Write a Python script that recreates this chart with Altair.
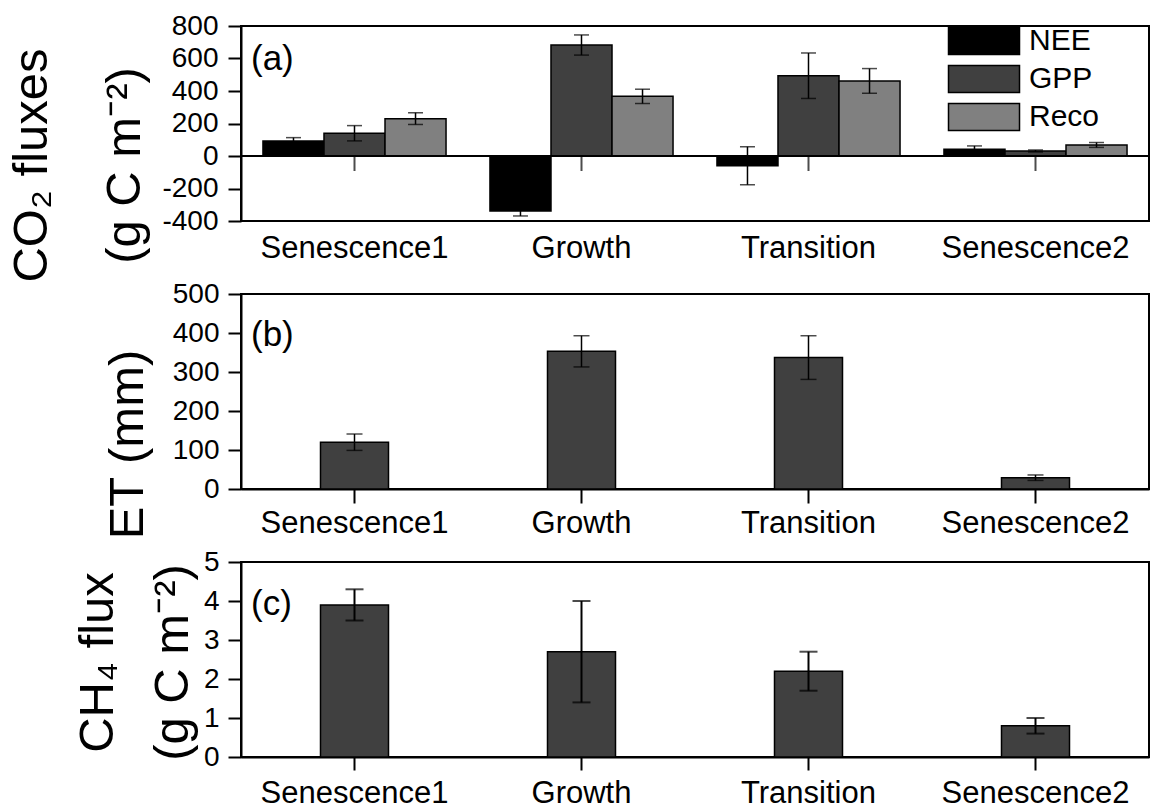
import altair as alt
import pandas as pd

# ---------------- data ----------------
stages = ["Senescence1", "Growth", "Transition", "Senescence2"]
series = ["NEE", "GPP", "Reco"]
series_colors = ["#000000", "#404040", "#808080"]

nee_mean = [92, -338, -60, 42]
nee_err = [21, 31, 117, 20]
gpp_mean = [140, 683, 494, 31]
gpp_err = [47, 62, 140, 6]
reco_mean = [230, 367, 462, 68]
reco_err = [36, 44, 76, 15]

et_mean = [120, 353, 337, 29]
et_err = [21, 40, 56, 7]

ch4_mean = [3.9, 2.7, 2.2, 0.8]
ch4_err = [0.4, 1.3, 0.5, 0.2]

co2_ticks = [-400, -200, 0, 200, 400, 600, 800]
et_ticks = [0, 100, 200, 300, 400, 500]
ch4_ticks = [0, 1, 2, 3, 4, 5]
panel_tags = ["(a)", "(b)", "(c)"]

FONT = "Arial"
W, H = 908, 195
BAR_GRAY = "#404040"
XLAB = 31
YLAB = 28
TITLE = 49

# ---------------- tables ----------------
recs = []
for s, means, errs in zip(series, [nee_mean, gpp_mean, reco_mean],
                          [nee_err, gpp_err, reco_err]):
    for st, m, e in zip(stages, means, errs):
        recs.append({"stage": st, "series": s, "value": m, "lo": m - e, "hi": m + e})
df_a = pd.DataFrame(recs)

df_b = pd.DataFrame({"stage": stages, "value": et_mean,
                     "lo": [m - e for m, e in zip(et_mean, et_err)],
                     "hi": [m + e for m, e in zip(et_mean, et_err)]})
df_c = pd.DataFrame({"stage": stages, "value": ch4_mean,
                     "lo": [m - e for m, e in zip(ch4_mean, ch4_err)],
                     "hi": [m + e for m, e in zip(ch4_mean, ch4_err)]})
df_zero = pd.DataFrame({"stage": stages, "zero": [0] * len(stages)})


def xenc(axis):
    return alt.X("stage:N",
                 scale=alt.Scale(domain=stages, paddingInner=0, paddingOuter=0),
                 axis=axis)


def yenc(field, domain, axis):
    return alt.Y(field, scale=alt.Scale(domain=domain, nice=False, zero=False), axis=axis)


def tag_layer(tag, ty):
    return alt.Chart(pd.DataFrame({"tag": [tag]})).mark_text(
        align="left", baseline="middle", fontSize=35, font=FONT, color="black"
    ).encode(x=alt.value(10), y=alt.value(ty), text="tag:N")


# ---------------- panel (a) ----------------
xa_axis = alt.Axis(title=None, labelAngle=0, ticks=False, domain=False, labelPadding=12,
                   labelFontSize=XLAB, labelLimit=0)
ya_axis = alt.Axis(values=co2_ticks, title=["CO\u2082 fluxes", "(g C m\u207b\u00b2)"],
                   titleX=-195, titleY=139, titleLineHeight=93,
                   titleBaseline="alphabetic", titleAlign="center",
                   tickSize=13, labelPadding=10, labelFontSize=YLAB,
                   labelExpr="toString(datum.value)")
dom_a = [-400, 800]
xoff = alt.XOffset("series:N",
                   scale=alt.Scale(domain=series, paddingInner=0, paddingOuter=0.36))

bars_a = alt.Chart(df_a).mark_bar(stroke="black", strokeWidth=1.5).encode(
    x=xenc(xa_axis),
    xOffset=xoff,
    y=yenc("value:Q", dom_a, ya_axis),
    color=alt.Color("series:N",
                    scale=alt.Scale(domain=series, range=series_colors),
                    legend=alt.Legend(title=None, orient="none", legendX=706, legendY=0,
                                      symbolType="M-1,-1H4.26V1H-1Z", symbolSize=729,
                                      symbolStrokeColor="black", symbolStrokeWidth=1.5,
                                      symbolOpacity=1,
                                      labelFontSize=30, labelFont=FONT, labelColor="black",
                                      labelOffset=52, rowPadding=4, padding=0)),
)
err_a = alt.Chart(df_a).mark_rule(color="black", strokeWidth=1.5).encode(
    x=xenc(xa_axis), xOffset=xoff,
    y=yenc("lo:Q", dom_a, ya_axis), y2="hi:Q",
)
cap_lo_a = alt.Chart(df_a).mark_tick(color="black", thickness=1.5, size=15).encode(
    x=xenc(xa_axis), xOffset=xoff, y=yenc("lo:Q", dom_a, ya_axis))
cap_hi_a = alt.Chart(df_a).mark_tick(color="black", thickness=1.5, size=15).encode(
    x=xenc(xa_axis), xOffset=xoff, y=yenc("hi:Q", dom_a, ya_axis))
zero_a = alt.Chart(df_zero).mark_rule(color="black", strokeWidth=2).encode(
    y=yenc("zero:Q", dom_a, ya_axis))
zero_ticks_a = alt.Chart(df_zero).mark_tick(
    orient="vertical", color="black", thickness=2, size=15, yOffset=7.5
).encode(x=xenc(xa_axis), y=yenc("zero:Q", dom_a, ya_axis))

panel_a = alt.layer(bars_a, err_a, cap_lo_a, cap_hi_a, zero_a, zero_ticks_a,
                    tag_layer(panel_tags[0], 33)).properties(width=W, height=H)


# ---------------- panels (b) and (c) ----------------
def single_panel(df, dom, ticks, title, tx, ty, lh, tick_size, lab_pad, cap, ew, tag, tag_y):
    xax = alt.Axis(title=None, labelAngle=0, ticks=True, tickSize=tick_size,
                   domain=True, labelPadding=lab_pad, labelFontSize=XLAB, labelLimit=0)
    yax = alt.Axis(values=ticks, title=title, titleX=tx, titleY=ty, titleLineHeight=lh,
                   titleBaseline="alphabetic", titleAlign="center",
                   tickSize=13, labelPadding=9, labelFontSize=YLAB,
                   labelExpr="toString(datum.value)")
    bars = alt.Chart(df).mark_bar(size=68, color=BAR_GRAY, stroke="black",
                                  strokeWidth=1.5).encode(
        x=xenc(xax), y=yenc("value:Q", dom, yax))
    err = alt.Chart(df).mark_rule(color="black", strokeWidth=ew).encode(
        x=xenc(xax), y=yenc("lo:Q", dom, yax), y2="hi:Q")
    c_lo = alt.Chart(df).mark_tick(color="black", thickness=ew, size=cap).encode(
        x=xenc(xax), y=yenc("lo:Q", dom, yax))
    c_hi = alt.Chart(df).mark_tick(color="black", thickness=ew, size=cap).encode(
        x=xenc(xax), y=yenc("hi:Q", dom, yax))
    return alt.layer(bars, err, c_lo, c_hi, tag_layer(tag, tag_y)).properties(width=W, height=H)


panel_b = single_panel(df_b, [0, 500], et_ticks, "ET (mm)", -99, 150, 60,
                       14, 5, 16, 1.5, panel_tags[1], 41)
panel_c = single_panel(df_c, [0, 5], ch4_ticks, ["CH\u2084 flux", "(g C m\u207b\u00b2)"],
                       -129, 100, 75, 13, 8, 18, 2, panel_tags[2], 42)

chart = alt.vconcat(panel_a, panel_b, panel_c, spacing=73, bounds="flush").properties(
    padding={"left": 6, "top": 11, "right": 0, "bottom": 0},
    background="white",
).configure_view(
    stroke="black", strokeWidth=2
).configure_axis(
    labelFont=FONT, labelColor="black", titleFont=FONT, titleFontSize=TITLE,
    titleFontWeight="normal", titleColor="black", tickColor="black", tickWidth=2,
    domainColor="black", domainWidth=2, grid=False,
)

chart.save("out.html", embed_options={"renderer": "svg", "actions": False})
